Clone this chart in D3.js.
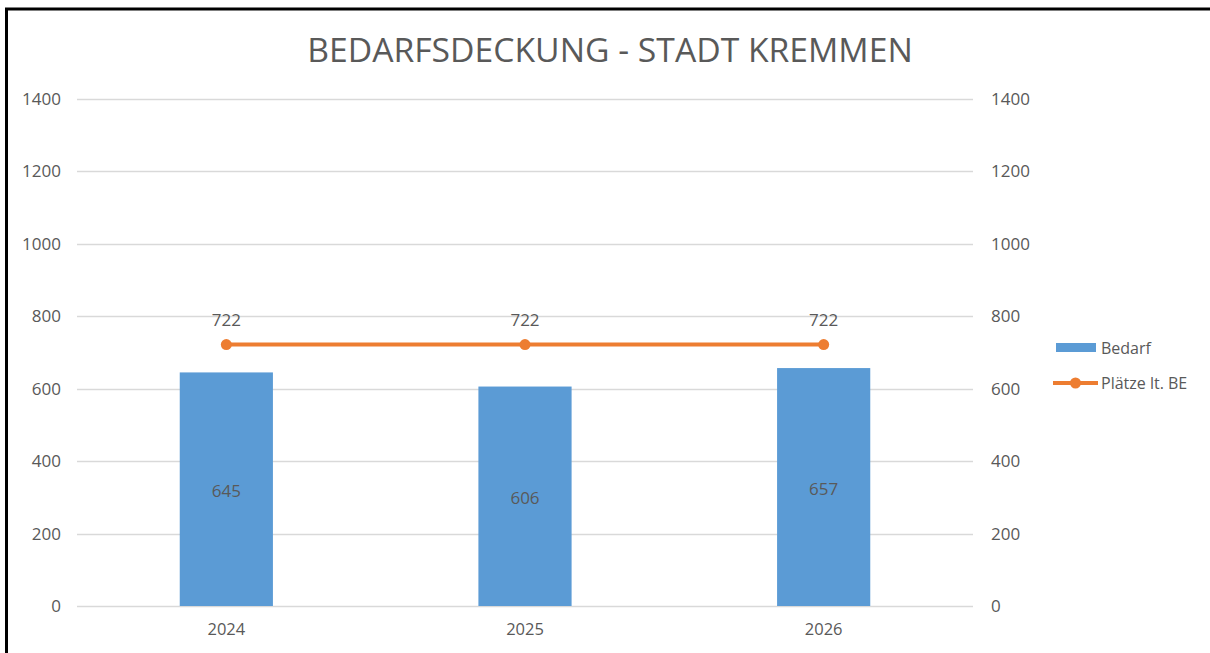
<!DOCTYPE html>
<html>
<head>
<meta charset="utf-8">
<script src="https://cdn.jsdelivr.net/npm/d3@7"></script>
<style>
  html, body { margin: 0; padding: 0; background: #fff; }
  svg { display: block; }
  text { font-family: "Open Sans", "Noto Sans", sans-serif; fill: #595959; }
</style>
</head>
<body>
<script>
// Demand vs. available places, Stadt Kremmen
const years = ["2024", "2025", "2026"];
const bedarf = [645, 606, 657];
const plaetze = [722, 722, 722];
const yTicks = [0, 200, 400, 600, 800, 1000, 1200, 1400];
const seriesNames = ["Bedarf", "Plätze lt. BE"];
const title = "BEDARFSDECKUNG - STADT KREMMEN";

const W = 1210, H = 653;
const barColor = "#5B9BD5", lineColor = "#ED7D31", gridColor = "#D9D9D9";
const font = "'Open Sans', 'Noto Sans', sans-serif";

const svg = d3.select("body").append("svg").attr("width", W).attr("height", H);

// outer frame
svg.append("rect")
  .attr("x", 6.5).attr("y", 9).attr("width", W + 10).attr("height", H + 10)
  .attr("fill", "none").attr("stroke", "#000").attr("stroke-width", 3);

const plot = { left: 77, right: 973, top: 99, bottom: 606 };

const x = d3.scaleBand().domain(years).range([plot.left, plot.right])
  .paddingInner(0.688).paddingOuter(0.344);
const xc = d => x(d) + x.bandwidth() / 2;
const y = d3.scaleLinear().domain([0, 1400]).range([plot.bottom, plot.top]);

// title
svg.append("text").attr("x", 610).attr("y", 62).attr("text-anchor", "middle")
  .style("font-size", "33.7px").text(title);

// gridlines
svg.append("g").selectAll("line").data(yTicks).join("line")
  .attr("x1", plot.left).attr("x2", plot.right)
  .attr("y1", d => Math.round(y(d)) + 0.5).attr("y2", d => Math.round(y(d)) + 0.5)
  .attr("stroke", gridColor).attr("stroke-width", 1.5);

// left and right axes (labels only)
const leftAxis = svg.append("g").attr("transform", `translate(${plot.left - 16},0)`)
  .call(d3.axisLeft(y).tickValues(yTicks).tickFormat(d3.format("d")).tickSize(0).tickPadding(0));
const rightAxis = svg.append("g").attr("transform", `translate(${plot.right + 18},0)`)
  .call(d3.axisRight(y).tickValues(yTicks).tickFormat(d3.format("d")).tickSize(0).tickPadding(0));
[leftAxis, rightAxis].forEach(a => {
  a.select(".domain").remove();
  a.selectAll("text").style("font-size", "17px").attr("fill", "#595959")
    .style("font-family", font);
});

// x axis labels
const xAxis = svg.append("g").attr("transform", `translate(0,${plot.bottom + 17})`)
  .call(d3.axisBottom(x).tickSize(0).tickPadding(0));
xAxis.select(".domain").remove();
xAxis.selectAll("text").style("font-size", "16.5px").attr("fill", "#595959")
  .style("font-family", font);

// bars
svg.append("g").selectAll("rect").data(bedarf).join("rect")
  .attr("x", (d, i) => x(years[i])).attr("width", x.bandwidth())
  .attr("y", d => y(d)).attr("height", d => y(0) - y(d))
  .attr("fill", barColor);

// bar value labels
svg.append("g").selectAll("text").data(bedarf).join("text")
  .attr("x", (d, i) => xc(years[i])).attr("y", d => (y(d) + y(0)) / 2 + 8)
  .attr("text-anchor", "middle").style("font-size", "17px").attr("fill", "#404040")
  .text(d => d);

// line series
const line = d3.line().x((d, i) => xc(years[i])).y(d => y(d));
svg.append("path").datum(plaetze).attr("d", line)
  .attr("fill", "none").attr("stroke", lineColor).attr("stroke-width", 4)
  .attr("stroke-linecap", "round");
svg.append("g").selectAll("circle").data(plaetze).join("circle")
  .attr("cx", (d, i) => xc(years[i])).attr("cy", d => y(d)).attr("r", 5.5)
  .attr("fill", lineColor);
svg.append("g").selectAll("text").data(plaetze).join("text")
  .attr("x", (d, i) => xc(years[i])).attr("y", d => y(d) - 19)
  .attr("text-anchor", "middle").style("font-size", "17px").attr("fill", "#404040")
  .text(d => d);

// legend
const lg = svg.append("g");
lg.append("rect").attr("x", 1056).attr("y", 343).attr("width", 40).attr("height", 9)
  .attr("fill", barColor);
lg.append("text").attr("x", 1101).attr("y", 354).style("font-size", "16px").text(seriesNames[0]);
lg.append("line").attr("x1", 1053).attr("x2", 1098).attr("y1", 383).attr("y2", 383)
  .attr("stroke", lineColor).attr("stroke-width", 4);
lg.append("circle").attr("cx", 1075.5).attr("cy", 383).attr("r", 5.5).attr("fill", lineColor);
lg.append("text").attr("x", 1101).attr("y", 389).style("font-size", "16px").text(seriesNames[1]);
</script>
</body>
</html>
